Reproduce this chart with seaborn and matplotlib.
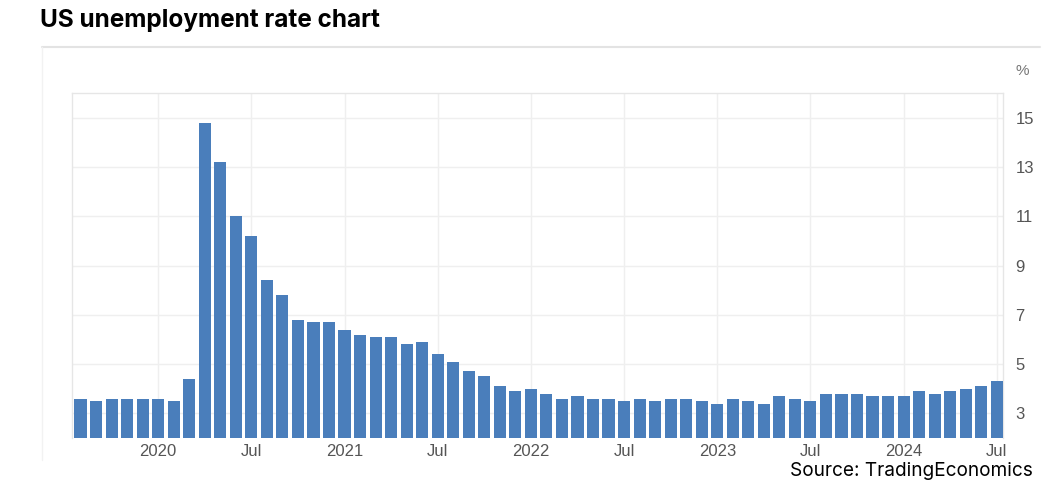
import matplotlib
matplotlib.use("Agg")
import matplotlib.pyplot as plt
import seaborn as sns
import pandas as pd
import numpy as np
from matplotlib.lines import Line2D

# Monthly US unemployment rate, Aug 2019 .. Jul 2024
months = pd.date_range("2019-08-01", "2024-07-01", freq="MS")
rate = [3.6, 3.5, 3.6, 3.6, 3.6,                      # Aug-Dec 2019
        3.6, 3.5, 4.4, 14.8, 13.2, 11.0, 10.2, 8.4, 7.8, 6.8, 6.7, 6.7,   # 2020
        6.4, 6.2, 6.1, 6.1, 5.8, 5.9, 5.4, 5.1, 4.7, 4.5, 4.1, 3.9,       # 2021
        4.0, 3.8, 3.6, 3.7, 3.6, 3.6, 3.5, 3.6, 3.5, 3.6, 3.6, 3.5,       # 2022
        3.4, 3.6, 3.5, 3.4, 3.7, 3.6, 3.5, 3.8, 3.8, 3.8, 3.7, 3.7,       # 2023
        3.7, 3.9, 3.8, 3.9, 4.0, 4.1, 4.3]                                # 2024
y_ticks = [3, 5, 7, 9, 11, 13, 15]

df = pd.DataFrame({"month": [m.strftime("%Y-%m") for m in months], "rate": rate})

sns.set_theme(style="white")
plt.rcParams["font.family"] = ["Inter", "DejaVu Sans"]

fig = plt.figure(figsize=(10.59, 4.97), dpi=100)
W, H = 1059, 497
ax = fig.add_axes([72 / W, 1 - 438 / H, (1003 - 72) / W, (438 - 93) / H])

sns.barplot(data=df, x="month", y="rate", color="#4A7EBB", saturation=1,
            width=0.78, ax=ax, zorder=3, edgecolor="none")

ax.set_xlim(-0.55, len(rate) - 0.6)
ax.set_ylim(2, 16)

# x ticks at January and July
tick_pos = [i for i, m in enumerate(months) if m.month in (1, 7)]
tick_lab = [str(m.year) if m.month == 1 else "Jul" for m in months if m.month in (1, 7)]
ax.set_xticks(tick_pos)
ax.set_xticklabels(tick_lab)
ax.set_yticks(y_ticks)
ax.yaxis.tick_right()
ax.tick_params(axis="both", length=0, labelsize=12, labelcolor="#555555")
ax.tick_params(axis="x", pad=4)
ax.tick_params(axis="y", pad=9)
for lab in ax.get_xticklabels() + ax.get_yticklabels():
    lab.set_family(["Liberation Sans", "DejaVu Sans"])
ax.set_xlabel("")
ax.set_ylabel("")

ax.grid(True, color="#efefef", linewidth=1, zorder=0)
ax.set_axisbelow(True)
for side in ["top", "left", "right"]:
    ax.spines[side].set_visible(True)
    ax.spines[side].set_color("#e6e6e6")
    ax.spines[side].set_linewidth(1)
ax.spines["bottom"].set_visible(False)

# "%" label above the y axis
ax.text(1.0 + 12 / (1003 - 72), 1.0 + 22 / 345, "%", transform=ax.transAxes,
        fontsize=11, color="#777777", ha="left", va="center",
        family=["Liberation Sans", "DejaVu Sans"])

# outer card lines
fig.add_artist(Line2D([42 / W, 1040 / W], [1 - 47 / H, 1 - 47 / H],
                      transform=fig.transFigure, color="#e3e3e3", lw=1.5))
fig.add_artist(Line2D([42 / W, 42 / W], [1 - 47 / H, 1 - 460 / H],
                      transform=fig.transFigure, color="#f2f2f2", lw=1))

fig.text(40 / W, 1 - 20 / H, "US unemployment rate chart", fontsize=17.5,
         fontweight="bold", color="black", ha="left", va="center")
fig.text(1033 / W, 1 - 471 / H, "Source: TradingEconomics", fontsize=13.7,
         color="black", ha="right", va="center")

fig.savefig("out.png", dpi=100)
